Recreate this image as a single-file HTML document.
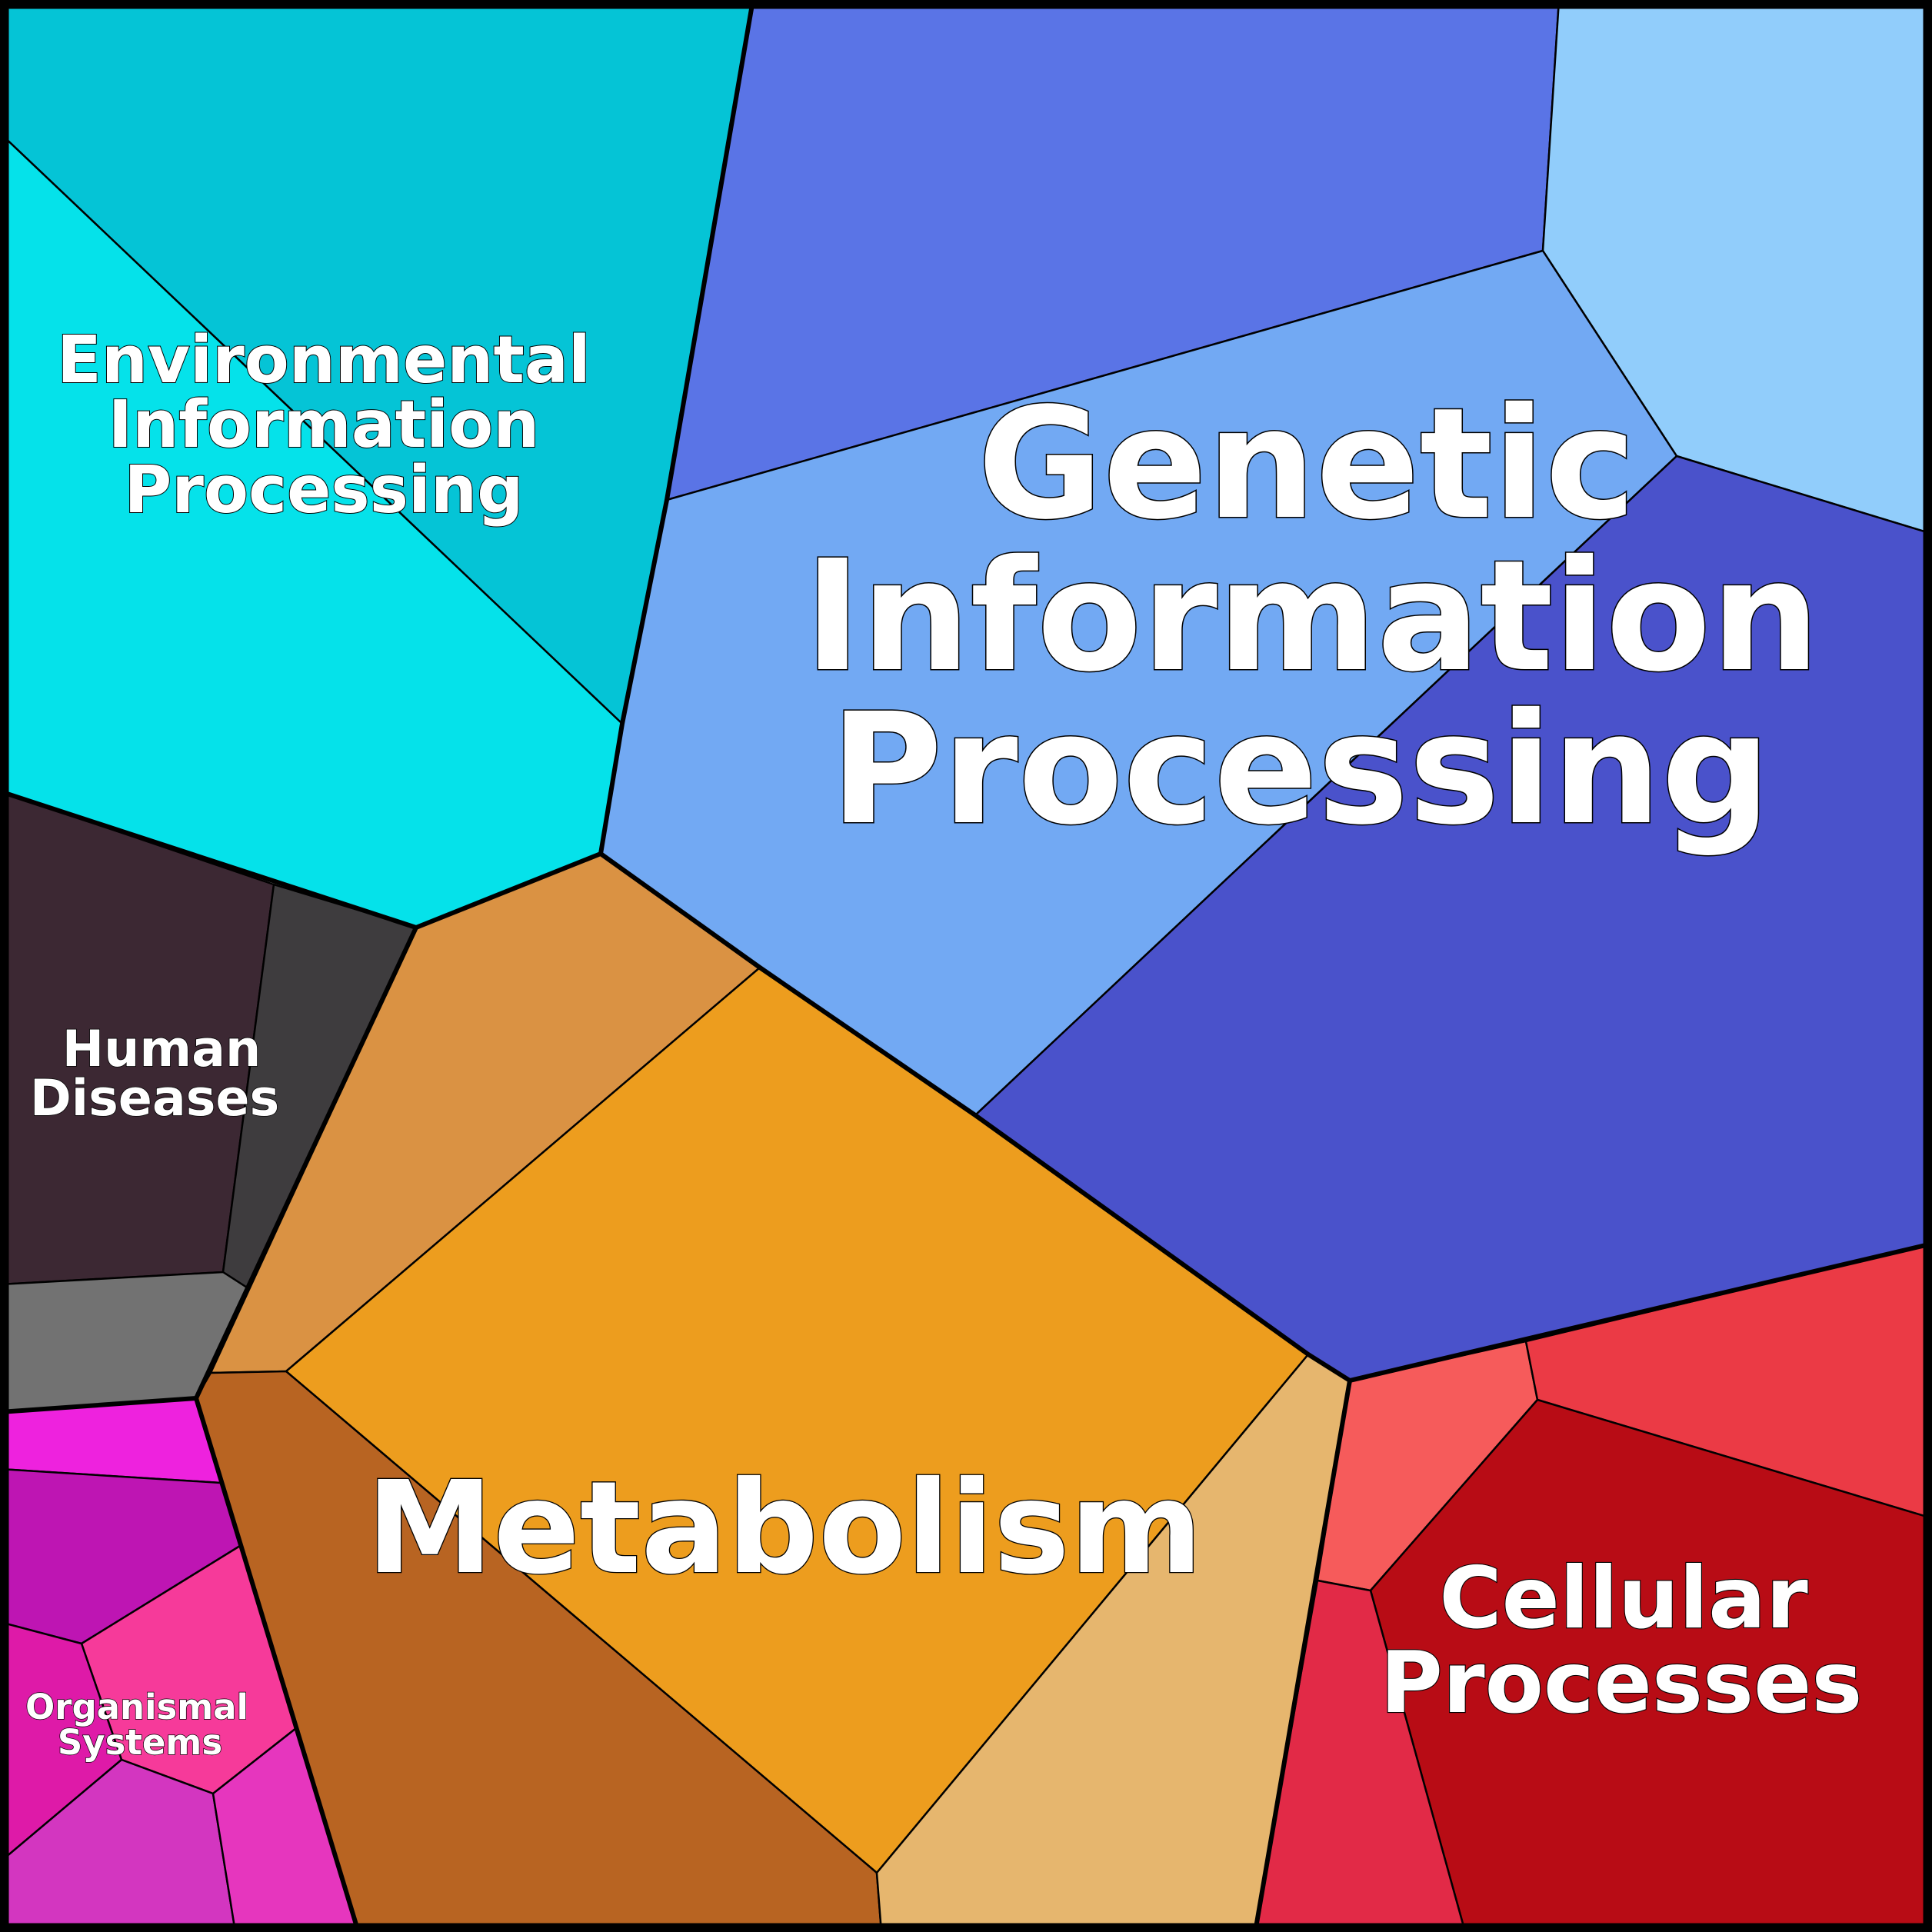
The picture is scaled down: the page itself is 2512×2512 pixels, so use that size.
<!DOCTYPE html>
<html>
<head>
<meta charset="utf-8">
<style>
html,body{margin:0;padding:0;background:#fff;}
svg{display:block;}
text{font-family:"DejaVu Sans","Liberation Sans",sans-serif;font-weight:bold;fill:#fff;stroke:#000;paint-order:stroke fill;text-anchor:middle;}
</style>
</head>
<body>
<svg width="2512" height="2512" viewBox="0 0 2512 2512" xmlns="http://www.w3.org/2000/svg">
<g stroke="#000" stroke-width="2.5" stroke-linejoin="round">
<!-- Environmental -->
<polygon fill="#05C4D6" points="0,0 979,0 867,650 809,941 0,173"/>
<polygon fill="#05E2EA" points="0,173 809,941 781,1110 541,1206 0,1029"/>
<!-- Genetic -->
<polygon fill="#5A74E6" points="979,0 2027,0 2006,326 867,650"/>
<polygon fill="#91CDFB" points="2027,0 2512,0 2512,694 2180,593 2006,326"/>
<polygon fill="#72A9F3" points="867,650 2006,326 2180,593 1268,1450 988,1258 781,1110 809,941"/>
<polygon fill="#4A52CB" points="2180,593 2512,694 2512,1617 1755,1795 1701,1761 1268,1450"/>
<!-- Metabolism -->
<polygon fill="#DA9243" points="781,1110 988,1258 372,1783 274,1785 541,1206"/>
<polygon fill="#ED9D1E" points="988,1258 1268,1450 1701,1761 1140,2435 372,1783"/>
<polygon fill="#B86422" points="274,1785 372,1783 1140,2435 1146,2512 466,2512 255,1818"/>
<polygon fill="#E6B66E" points="1701,1761 1755,1795 1632,2512 1146,2512 1140,2435"/>
<!-- Human -->
<polygon fill="#3C2833" points="0,1029 356,1150 290,1654 0,1670"/>
<polygon fill="#3E3C3E" points="356,1150 541,1206 321,1674 290,1654"/>
<polygon fill="#727272" points="0,1670 290,1654 321,1674 255,1818 0,1836"/>
<!-- Organismal -->
<polygon fill="#EE22DE" points="0,1836 255,1818 287,1928 0,1910"/>
<polygon fill="#BE15B3" points="0,1910 287,1928 312,2010 106,2137 0,2109"/>
<polygon fill="#F63A9A" points="106,2137 312,2010 385,2247 277,2332 158,2288"/>
<polygon fill="#DE1AA8" points="0,2109 106,2137 158,2288 0,2421"/>
<polygon fill="#D336C0" points="0,2421 158,2288 277,2332 306,2512 0,2512"/>
<polygon fill="#E636BE" points="277,2332 385,2247 466,2512 306,2512"/>
<!-- Cellular -->
<polygon fill="#F65B5B" points="1755,1795 1984,1744 1999,1820 1782,2068 1713,2055"/>
<polygon fill="#EB3A45" points="1984,1744 2512,1617 2512,1974 1999,1820"/>
<polygon fill="#B80C15" points="1999,1820 2512,1974 2512,2512 1905,2512 1782,2068"/>
<polygon fill="#E22A47" points="1713,2055 1782,2068 1905,2512 1632,2512"/>
</g>
<g fill="none" stroke="#000" stroke-width="6" stroke-linejoin="round" stroke-linecap="round">
<polyline points="979,0 867,650 809,941 781,1110"/>
<polyline points="0,1029 541,1206 781,1110"/>
<polyline points="781,1110 988,1258 1268,1450 1701,1761 1755,1795"/>
<polyline points="1755,1795 2512,1617"/>
<polyline points="1755,1795 1632,2512"/>
<polyline points="541,1206 255,1818"/>
<polyline points="0,1836 255,1818"/>
<polyline points="255,1818 466,2512"/>
</g>
<rect x="5.75" y="5.75" width="2500.5" height="2500.5" fill="none" stroke="#000" stroke-width="11.5"/>

<text font-size="84.5" stroke-width="2" x="421" y="497">Environmental</text>
<text font-size="84.5" stroke-width="2" x="421" y="581">Information</text>
<text font-size="84.5" stroke-width="2" x="421" y="666">Processing</text>

<text font-size="199" stroke-width="3" x="1699" y="672">Genetic</text>
<text font-size="199" stroke-width="3" x="1706" y="870">Information</text>
<text font-size="199" stroke-width="3" x="1691" y="1069">Processing</text>

<text font-size="65" stroke-width="1.6" x="210" y="1386">Human</text>
<text font-size="65" stroke-width="1.6" x="201" y="1450">Diseases</text>

<text font-size="45" stroke-width="1.4" x="178" y="2235">Organismal</text>
<text font-size="45" stroke-width="1.4" x="182" y="2281">Systems</text>

<text font-size="166" stroke-width="2.6" x="1020" y="2044">Metabolism</text>

<text font-size="111" stroke-width="2.2" x="2111" y="2116">Cellular</text>
<text font-size="111" stroke-width="2.2" x="2108" y="2226">Processes</text>
</svg>
</body>
</html>
